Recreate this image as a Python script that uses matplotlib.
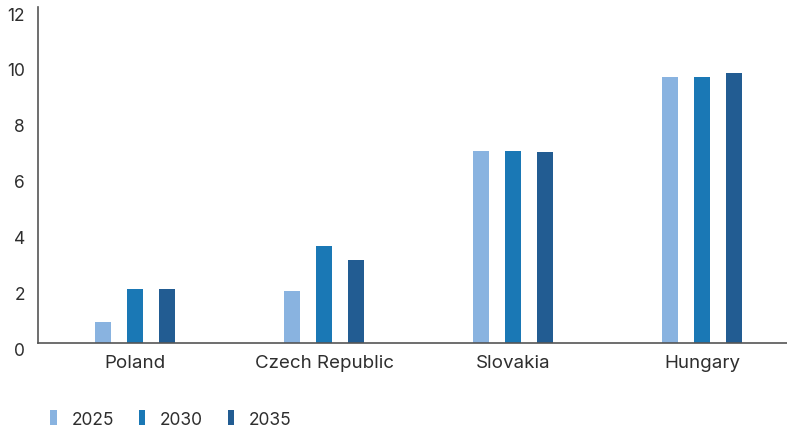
import matplotlib
matplotlib.use('Agg')
import matplotlib.pyplot as plt
import numpy as np

plt.rcParams['font.family'] = ['Inter', 'DejaVu Sans']

countries = ['Poland', 'Czech Republic', 'Slovakia', 'Hungary']
years = ['2025', '2030', '2035']
values_2025 = [0.75, 1.83, 6.83, 9.48]
values_2030 = [1.91, 3.46, 6.83, 9.48]
values_2035 = [1.91, 2.95, 6.79, 9.62]
colors = ['#89B3E0', '#1A78B5', '#225C92']

TEXT = '#2e2e2e'
AXIS = '#555555'

fig = plt.figure(figsize=(7.87, 4.31), dpi=100)
ax = fig.add_axes([37.5 / 787, 87.5 / 431, 756 / 787, 336 / 431])

x = np.arange(len(countries))
bar_w = 16 / 189
step = 32 / 189
for i, (vals, year) in enumerate(zip([values_2025, values_2030, values_2035], years)):
    ax.bar(x + (i - 1) * step, vals, width=bar_w, color=colors[i], label=year)

ax.set_xlim(-0.516, 3.484)
ax.set_ylim(0, 12)
ax.set_yticks(range(0, 13, 2))
ax.set_xticks(x)
ax.set_xticklabels(countries)

for side in ['top', 'right']:
    ax.spines[side].set_visible(False)
for side in ['left', 'bottom']:
    ax.spines[side].set_color(AXIS)
    ax.spines[side].set_linewidth(1.2)

ax.tick_params(axis='both', length=0, labelcolor=TEXT)
ax.tick_params(axis='y', pad=9, labelsize=12.5)
ax.tick_params(axis='x', pad=8, labelsize=13.5)
for lbl in ax.get_yticklabels():
    lbl.set_verticalalignment('top')

fig.legend(loc='center left', bbox_to_anchor=(50 / 787, 1 - 420 / 431),
           ncol=3, frameon=False, fontsize=12.5, labelcolor=TEXT,
           handlelength=0.4, handleheight=0.92, handletextpad=0.85,
           columnspacing=1.4, borderpad=0, borderaxespad=0)

fig.savefig('out.png', dpi=100)
